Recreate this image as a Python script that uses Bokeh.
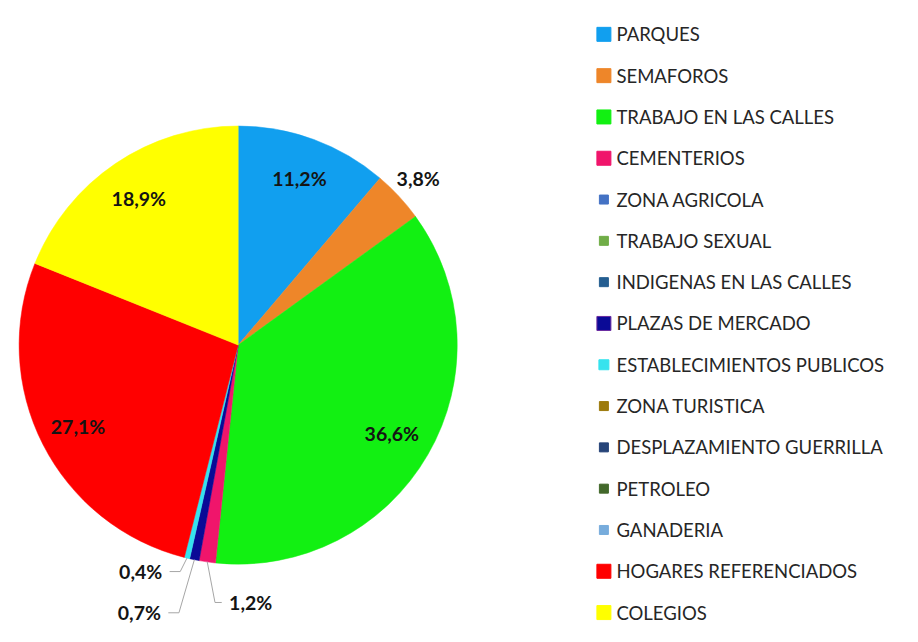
import numpy as np
from bokeh.plotting import figure
from bokeh.models import Range1d, ColumnDataSource
from bokeh.core.properties import value
from bokeh.embed import file_html
from bokeh.resources import INLINE

# ---------------- data ----------------
categories = ["PARQUES", "SEMAFOROS", "TRABAJO EN LAS CALLES", "CEMENTERIOS",
              "ZONA AGRICOLA", "TRABAJO SEXUAL", "INDIGENAS EN LAS CALLES",
              "PLAZAS DE MERCADO", "ESTABLECIMIENTOS PUBLICOS", "ZONA TURISTICA",
              "DESPLAZAMIENTO GUERRILLA", "PETROLEO", "GANADERIA",
              "HOGARES REFERENCIADOS", "COLEGIOS"]
percent = [11.2, 3.8, 36.6, 1.2, 0.0, 0.0, 0.0, 0.7, 0.4, 0.0, 0.0, 0.0, 0.0, 27.1, 18.9]
percent_labels = ["11,2%", "3,8%", "36,6%", "1,2%", "", "", "", "0,7%", "0,4%",
                  "", "", "", "", "27,1%", "18,9%"]

# ---------------- style ----------------
colors = ["#119FEF", "#EE8629", "#12F012", "#F0156B", "#4472C4", "#70AD47",
          "#255E91", "#0A0A96", "#36E3EE", "#9C7A0C", "#264478", "#43682B",
          "#77ACDC", "#FF0000", "#FFFF00"]
legend_marker_size = [14, 14, 14, 14, 9, 9, 9, 14, 10, 9, 9, 9, 9, 14, 14]
legend_marker_line = ["#119FEF", "#EE8629", "#12F012", "#F0156B", "#4472C4", "#70AD47",
                      "#255E91", "#6A2AA0", "#36E3EE", "#9C7A0C", "#264478", "#43682B",
                      "#77ACDC", "#FF0000", "#FFFF00"]
# label placement: ("in"/"out", radius factor) or ("leader", dx, dy, side) in ref px
label_place = {
    "PARQUES": ("in", 0.81), "SEMAFOROS": ("out", 1.12),
    "TRABAJO EN LAS CALLES": ("in", 0.81), "HOGARES REFERENCIADOS": ("in", 0.82),
    "COLEGIOS": ("in", 0.81),
    "CEMENTERIOS": ("leader", 45, 42, "right"),
    "PLAZAS DE MERCADO": ("leader", -57, 55, "left"),
    "ESTABLECIMIENTOS PUBLICOS": ("leader", -48, 14, "left"),
}

W, H = 902, 626
S = 0.965            # reference px -> figure px
OX, OY = 8.0, 2.0
CX, CY, R = 238, 355, 227          # reference px (y down)


def fx(x):
    return OX + S * x


def fy(y):
    return H - (OY + S * y)        # reference y (down) -> data y (up)


p = figure(width=W, height=H, output_backend="svg", toolbar_location=None,
           x_range=Range1d(0, W), y_range=Range1d(0, H),
           x_axis_location=None, y_axis_location=None, min_border=0)
p.grid.visible = False
p.outline_line_color = None
p.background_fill_color = "white"

vals = np.array(percent)
total = vals.sum()
cum_after = np.cumsum(vals) / total * 2 * np.pi
cum_before = cum_after - vals / total * 2 * np.pi
mask = vals > 0
start = np.pi / 2 - cum_after
end = np.pi / 2 - cum_before

src = ColumnDataSource(dict(start=start[mask], end=end[mask],
                            color=[c for c, m in zip(colors, mask) if m]))
p.wedge(x=fx(CX), y=fy(CY), radius=R * S, start_angle="start", end_angle="end",
        direction="anticlock", fill_color="color", line_color="color",
        line_width=0.5, source=src)

# ---------------- labels ----------------
lx, ly, lt = [], [], []
lead_xs, lead_ys = [], []
for i, cat in enumerate(categories):
    if vals[i] <= 0:
        continue
    mid = (cum_before[i] + cum_after[i]) / 2   # clockwise from top
    place = label_place[cat]
    if place[0] in ("in", "out"):
        rr = R * place[1]
        x = CX + rr * np.sin(mid)
        y = CY - rr * np.cos(mid)
    else:
        ex = CX + R * np.sin(mid)
        ey = CY - R * np.cos(mid)
        x = ex + place[1]
        y = ey + place[2]
        if place[3] == "left":
            x0, x1 = x + 30, x + 41
        else:
            x0, x1 = x - 30, x - 37
        lead_xs.append([fx(x0), fx(x1), fx(ex)])
        lead_ys.append([fy(y), fy(y), fy(ey)])
    lx.append(fx(x))
    ly.append(fy(y))
    lt.append(percent_labels[i])

p.multi_line(xs=lead_xs, ys=lead_ys, line_color="#A6A6A6", line_width=1)
p.text(x=lx, y=ly, text=lt, text_align="center", text_baseline="middle",
       text_font=value("Lato"), text_font_style="bold", text_font_size="19.5px",
       text_color="#141414")

# ---------------- legend ----------------
leg_y = [fy(33 + i * 42.8) for i in range(len(categories))]
p.scatter(x=[fx(617)] * len(categories), y=leg_y, marker="square",
          size=legend_marker_size, fill_color=colors, line_color=legend_marker_line,
          line_width=1)
p.text(x=[fx(630)] * len(categories), y=leg_y, text=categories, text_align="left",
       text_baseline="middle", text_font=value("Lato"), text_font_size="18.5px",
       text_color="#262626")

open("out.html", "w").write(file_html(p, INLINE))
